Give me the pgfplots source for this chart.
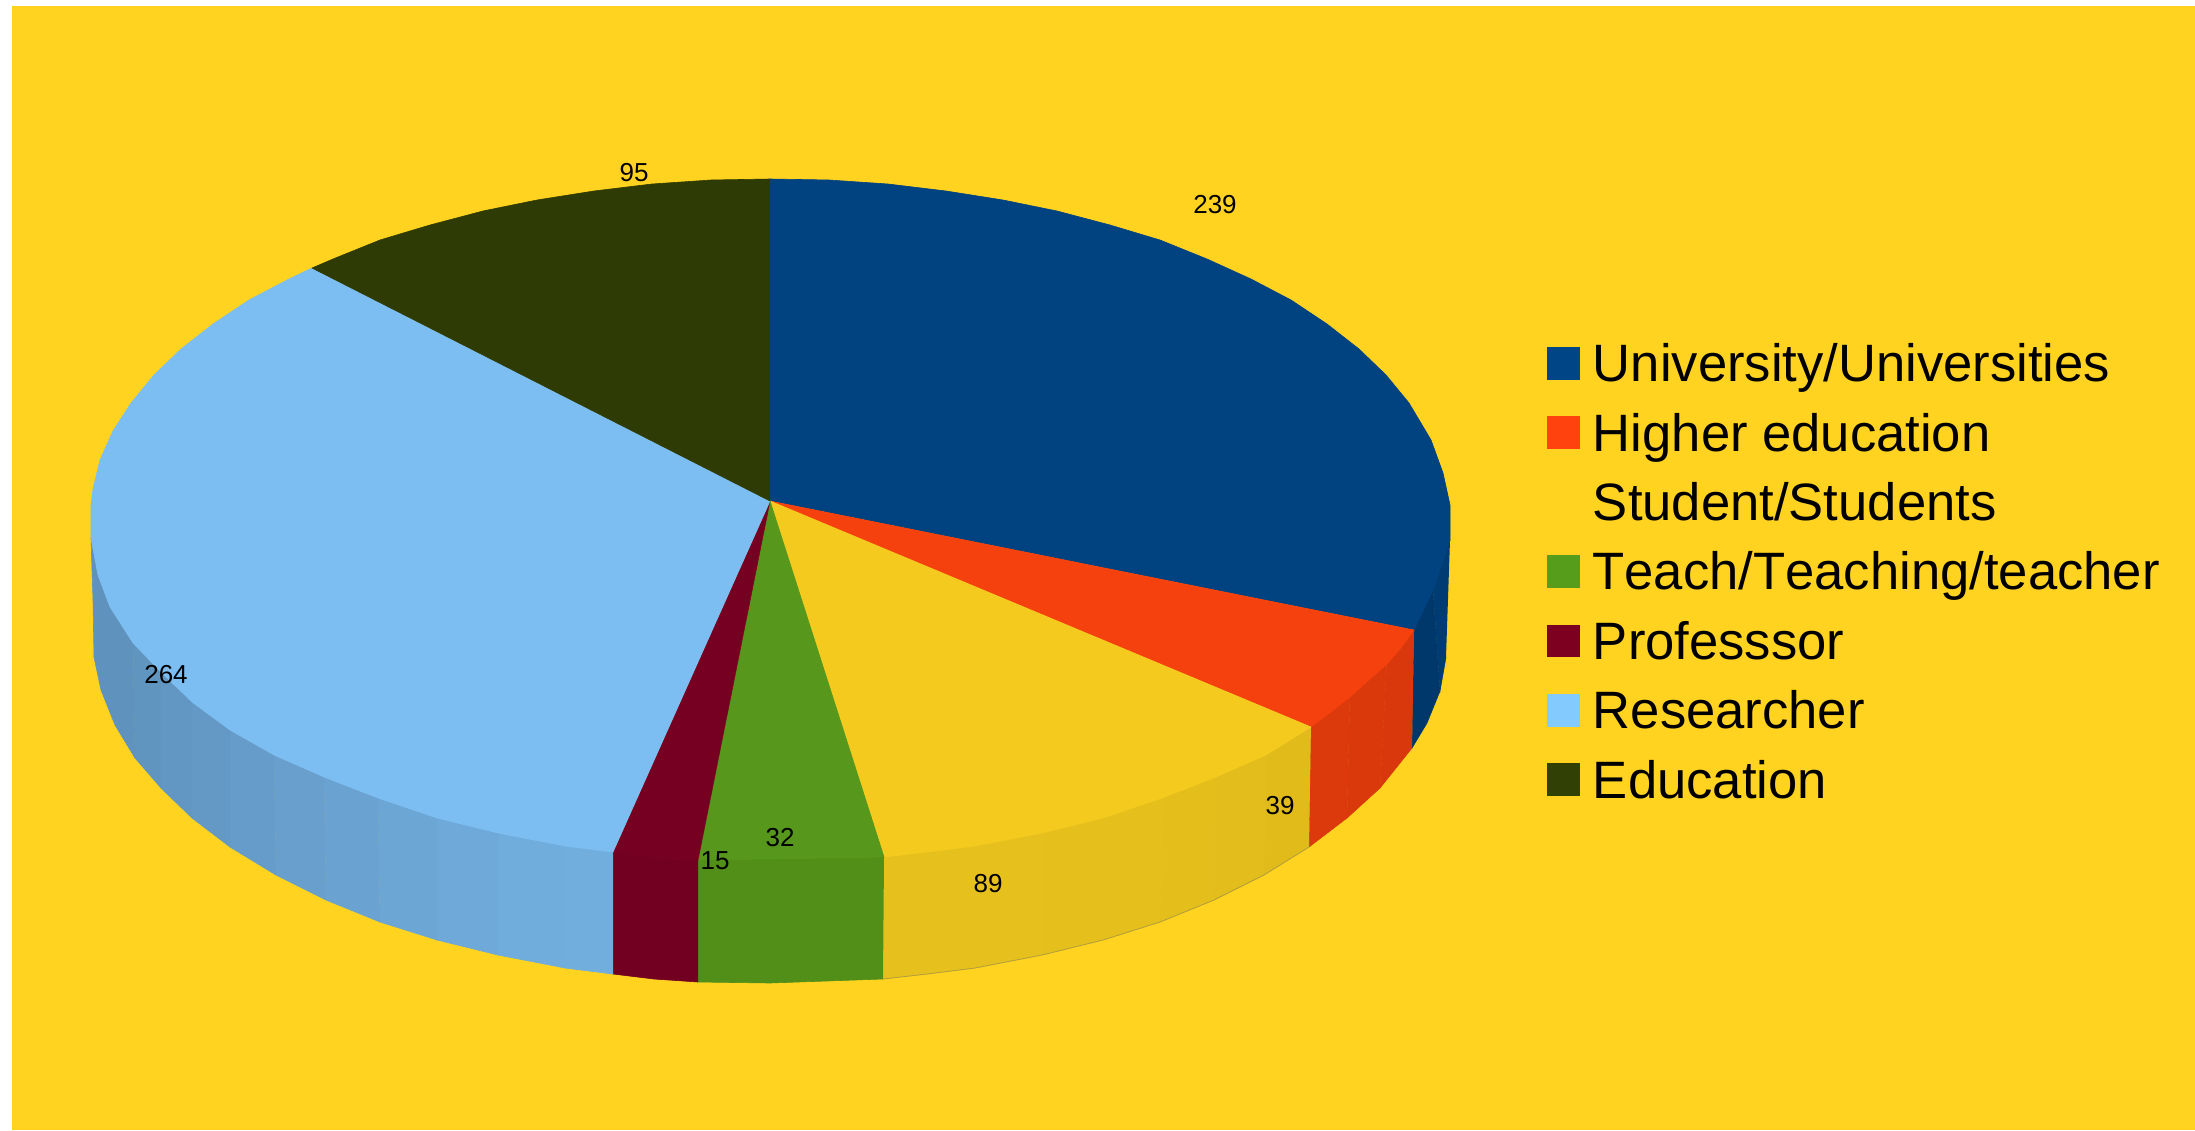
\documentclass[border=0pt]{standalone}
\usepackage{pgfplots}
\pgfplotsset{compat=1.18}
\usepackage{fontspec}
\setmainfont[Kerning=Off]{Liberation Sans}
\definecolor{bg}{HTML}{FFD320}
\definecolor{lUni}{HTML}{004586}
\definecolor{lHig}{HTML}{FF420E}
\definecolor{lTea}{HTML}{579D1C}
\definecolor{lPro}{HTML}{7E0021}
\definecolor{lRes}{HTML}{83CAFF}
\definecolor{lEdu}{HTML}{314004}
\definecolor{tUni}{HTML}{014280}
\definecolor{tHig}{HTML}{F4410D}
\definecolor{tStu}{HTML}{F4CA1F}
\definecolor{tTea}{HTML}{56971C}
\definecolor{tPro}{HTML}{760021}
\definecolor{tRes}{HTML}{7CBEF1}
\definecolor{tEdu}{HTML}{2F3B05}
\definecolor{sPro}{HTML}{720020}
\definecolor{sTea}{HTML}{518F18}
\definecolor{sUniA}{HTML}{00386C}
\definecolor{sUniB}{HTML}{003C74}
\definecolor{sHigA}{HTML}{DC3A0C}
\definecolor{sHigB}{HTML}{DA390C}
\definecolor{sHigC}{HTML}{D8380C}
\definecolor{sStuA}{HTML}{E6C11E}
\definecolor{sStuB}{HTML}{E5C01D}
\definecolor{sStuC}{HTML}{E4BF1C}
\definecolor{sStuD}{HTML}{E2BD1B}
\definecolor{sStuE}{HTML}{E0BB1A}
\definecolor{sResA}{HTML}{5F93BD}
\definecolor{sResB}{HTML}{6095C0}
\definecolor{sResC}{HTML}{6297C3}
\definecolor{sResD}{HTML}{6499C6}
\definecolor{sResE}{HTML}{669CC9}
\definecolor{sResF}{HTML}{689FCD}
\definecolor{sResG}{HTML}{6AA3D1}
\definecolor{sResH}{HTML}{6CA6D5}
\definecolor{sResI}{HTML}{6EA9D9}
\definecolor{sResJ}{HTML}{70ACDC}
\definecolor{sResK}{HTML}{71AEDE}
\pgfplotsset{poly/.style={draw=#1,fill=#1,line width=0.3pt,mark=none,sharp plot}}
\newcommand{\val}[2]{\node[font=\fontsize{13pt}{15pt}\selectfont,text=black,inner sep=0pt] at (axis cs:#1) {#2};}
\newcommand{\leg}[2]{\node[font=\fontsize{26.3pt}{30pt}\selectfont,text=black,inner sep=0pt,anchor=base west] at (axis cs:#1) {#2};}
\begin{document}
\begin{tikzpicture}
\begin{axis}[
  scale only axis, width=1097.5pt, height=565pt,
  xmin=0, xmax=2195, ymin=0, ymax=1130, y dir=reverse,
  hide axis, clip=true]
% page and chart background
\addplot[fill=white,draw=none] coordinates {(0,0)(2195,0)(2195,1130)(0,1130)};
\addplot[fill=bg,draw=none] coordinates {(12,6)(2195,6)(2195,1130)(12,1130)};
% side: University
\addplot[poly=sUniB] coordinates {(1450,540)(1433,590)(1440,691)(1446,657)};
\addplot[poly=sUniA] coordinates {(1433,590)(1414,630)(1412,748)(1427,723)(1440,691)};
% side: Higher education
\addplot[poly=sHigC] coordinates {(1414,630)(1387,660)(1380,788)(1412,748)};
\addplot[poly=sHigB] coordinates {(1387,660)(1350,692)(1347,818)(1380,788)};
\addplot[poly=sHigA] coordinates {(1350,692)(1311,722)(1309,847)(1347,818)};
% side: Student
\addplot[poly=sStuE] coordinates {(1311,722)(1266,755)(1264,875)(1309,847)};
\addplot[poly=sStuD] coordinates {(1266,755)(1216,777)(1214,900)(1264,875)};
\addplot[poly=sStuC] coordinates {(1216,777)(1162,798)(1160,922)(1214,900)};
\addplot[poly=sStuB] coordinates {(1162,798)(1103,818)(1103,940)(1160,922)};
\addplot[poly=sStuB] coordinates {(1103,818)(1042,833)(1042,955)(1103,940)};
\addplot[poly=sStuA] coordinates {(1042,833)(975,846)(975,968)(1042,955)};
\addplot[poly=sStuA] coordinates {(975,846)(927,852)(884,857)(883,979)(927,974)(975,968)};
\addplot[draw={rgb,255:red,178;green,158;blue,60},line width=0.4pt,mark=none,sharp plot] coordinates {(883,979)(927,974)(975,968)(1042,955)(1103,940)(1160,922)(1214,900)(1264,875)(1309,847)};
% side: Teach
\addplot[poly=sTea] coordinates {(884,857)(770,859)(698,860)(698,982)(770,983)(883,979)};
% side: Professor
\addplot[poly=sPro] coordinates {(698,860)(654,857)(613,852)(613,974)(654,979)(698,982)};
% side: Researcher
\addplot[poly=sResK] coordinates {(613,852)(565,846)(565,968)(613,974)};
\addplot[poly=sResJ] coordinates {(565,846)(498,833)(498,955)(565,968)};
\addplot[poly=sResI] coordinates {(498,833)(437,818)(437,940)(498,955)};
\addplot[poly=sResH] coordinates {(437,818)(378,798)(380,922)(437,940)};
\addplot[poly=sResG] coordinates {(378,798)(324,777)(326,900)(380,922)};
\addplot[poly=sResF] coordinates {(324,777)(274,755)(276,875)(326,900)};
\addplot[poly=sResE] coordinates {(274,755)(230,730)(230,847)(276,875)};
\addplot[poly=sResD] coordinates {(230,730)(192,702)(192,818)(230,847)};
\addplot[poly=sResC] coordinates {(192,702)(161,672)(161,788)(192,818)};
\addplot[poly=sResB] coordinates {(161,672)(133,643)(135,758)(161,788)};
\addplot[poly=sResA] coordinates {(133,643)(110,607)(98,575)(91,538)(93,600)(94,657)(101,690)(115,725)(135,758)};
% top faces
\addplot[poly=tUni] coordinates {(770,501)(770,179)(829,180)(888,184)(946,191)(1003,200)(1057,211)(1110,225)(1160,240)(1207,259)(1251,279)(1291,300)(1327,324)(1359,349)(1386,375)(1409,403)(1431,440)(1443,473)(1450,505)(1450,540)(1433,590)(1414,630)};
\addplot[poly=tHig] coordinates {(770,501)(1414,630)(1401,648)(1387,664)(1369,680)(1350,697)(1331,712)(1311,727)};
\addplot[poly=tStu] coordinates {(770,501)(1311,727)(1266,755)(1216,777)(1162,798)(1103,818)(1042,833)(975,846)(927,852)(884,857)};
\addplot[poly=tTea] coordinates {(770,501)(884,857)(770,859)(698,860)};
\addplot[poly=tPro] coordinates {(770,501)(698,860)(654,857)(613,852)};
\addplot[poly=tRes] coordinates {(770,501)(613,852)(565,846)(498,833)(437,818)(378,798)(324,777)(274,755)(230,730)(192,702)(161,672)(133,643)(110,607)(98,575)(91,538)(91,505)(93,489)(100,460)(113,431)(131,403)(154,375)(181,349)(213,324)(249,300)(289,279)(312,268)};
\addplot[poly=tEdu] coordinates {(770,501)(312,268)(333,259)(380,240)(430,225)(483,211)(537,200)(594,191)(652,184)(711,180)(770,179)};
% legend keys
\addplot[poly=lUni] coordinates {(1547,347.3)(1579,347.3)(1579,379)(1547,379)};
\addplot[poly=lHig] coordinates {(1547,416.7)(1579,416.7)(1579,448.4)(1547,448.4)};
\addplot[poly=lTea] coordinates {(1547,555.5)(1579,555.5)(1579,587.2)(1547,587.2)};
\addplot[poly=lPro] coordinates {(1547,624.9)(1579,624.9)(1579,656.6)(1547,656.6)};
\addplot[poly=lRes] coordinates {(1547,694.3)(1579,694.3)(1579,726)(1547,726)};
\addplot[poly=lEdu] coordinates {(1547,763.7)(1579,763.7)(1579,795.4)(1547,795.4)};
% legend text
\leg{1592.5,381.7}{University/Universities}
\leg{1592.5,451.1}{Higher education}
\leg{1592.5,520.5}{Student/Students}
\leg{1592,589.9}{Teach/Teaching/teacher}
\leg{1592.5,659.3}{Professsor}
\leg{1592.5,728.7}{Researcher}
\leg{1592.5,798.1}{Education}
% value labels
\val{1215,205}{239}
\val{1280,806}{39}
\val{988,884}{89}
\val{780,838}{32}
\val{715,861}{15}
\val{166,675}{264}
\val{634,173}{95}
\end{axis}
\end{tikzpicture}
\end{document}
